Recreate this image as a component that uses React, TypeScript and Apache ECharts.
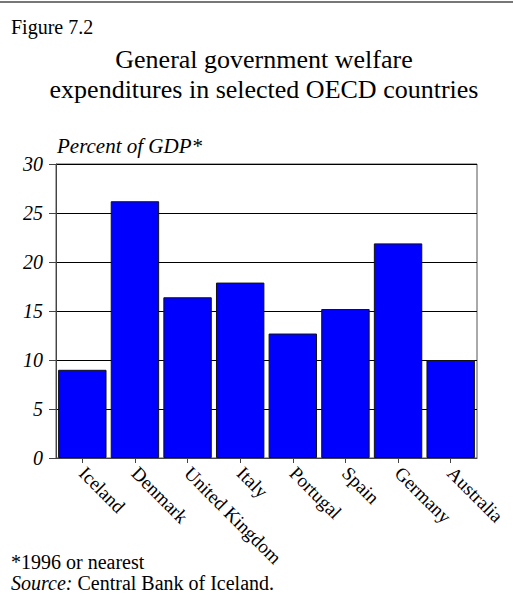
import React, { useEffect, useRef } from "react";
import * as echarts from "echarts";

const categories = ["Iceland", "Denmark", "United Kingdom", "Italy", "Portugal", "Spain", "Germany", "Australia"];
const values = [9.0, 26.2, 16.4, 17.9, 12.7, 15.2, 21.9, 10.0];
const yTicks = [0, 5, 10, 15, 20, 25, 30];

const SERIF = "Liberation Serif";

function txt(x: number, y: number, text: string, size: number, opts: any = {}) {
  return {
    type: "text",
    x,
    y,
    style: {
      text,
      fontFamily: SERIF,
      fontSize: size,
      fontStyle: opts.italic ? "italic" : "normal",
      fill: "#000",
      align: opts.align || "left",
      ...(opts.rich ? { rich: opts.rich } : {}),
    },
  };
}

export default function App() {
  const ref = useRef<HTMLDivElement>(null);
  useEffect(() => {
    const chart = echarts.init(ref.current!, undefined, { renderer: "svg" });
    chart.setOption({
      animation: false,
      backgroundColor: "#ffffff",
      textStyle: { fontFamily: SERIF },
      graphic: [
        { type: "line", shape: { x1: 0, y1: 2, x2: 513, y2: 2 }, style: { stroke: "#777", lineWidth: 2 } },
        txt(11, 17, "Figure 7.2", 20),
        txt(264, 46, "General government welfare", 26, { align: "center" }),
        txt(264, 76, "expenditures in selected OECD countries", 26, { align: "center" }),
        txt(57, 135, "Percent of GDP*", 21, { italic: true }),
        txt(11, 552, "*1996 or nearest", 20),
        txt(11, 573, "{i|Source:} Central Bank of Iceland.", 20, {
          rich: { i: { fontStyle: "italic", fontFamily: SERIF, fontSize: 20, fill: "#000" } },
        }),
      ],
      grid: {
        left: 56, right: 36, top: 164, height: 294,
        show: true, borderColor: "#555", borderWidth: 1, backgroundColor: "transparent",
        outerBoundsMode: "none", containLabel: false,
      },
      xAxis: {
        type: "category",
        data: categories,
        axisLine: { show: true, lineStyle: { color: "#444", width: 1 } },
        axisTick: { show: true, alignWithLabel: true, length: 5, lineStyle: { color: "#444" } },
        axisLabel: { rotate: -45, fontFamily: SERIF, fontSize: 19, color: "#000", margin: 12, interval: 0 },
        splitLine: { show: false },
      },
      yAxis: {
        type: "value",
        min: yTicks[0],
        max: yTicks[yTicks.length - 1],
        interval: 5,
        axisLine: { show: true, lineStyle: { color: "#444" } },
        axisTick: { show: true, length: 7, inside: false, lineStyle: { color: "#444" } },
        axisLabel: { fontFamily: SERIF, fontStyle: "italic", fontSize: 20, color: "#000", margin: 13 },
        splitLine: { show: true, lineStyle: { color: "#000", width: 1 } },
      },
      series: [
        {
          type: "bar",
          data: values,
          barCategoryGap: "8%",
          itemStyle: { color: "#0000ff", borderColor: "#111", borderWidth: 1 },
        },
      ],
    });
    return () => chart.dispose();
  }, []);
  return <div ref={ref} style={{ position: "absolute", left: 0, top: 0, width: 513, height: 601 }} />;
}
